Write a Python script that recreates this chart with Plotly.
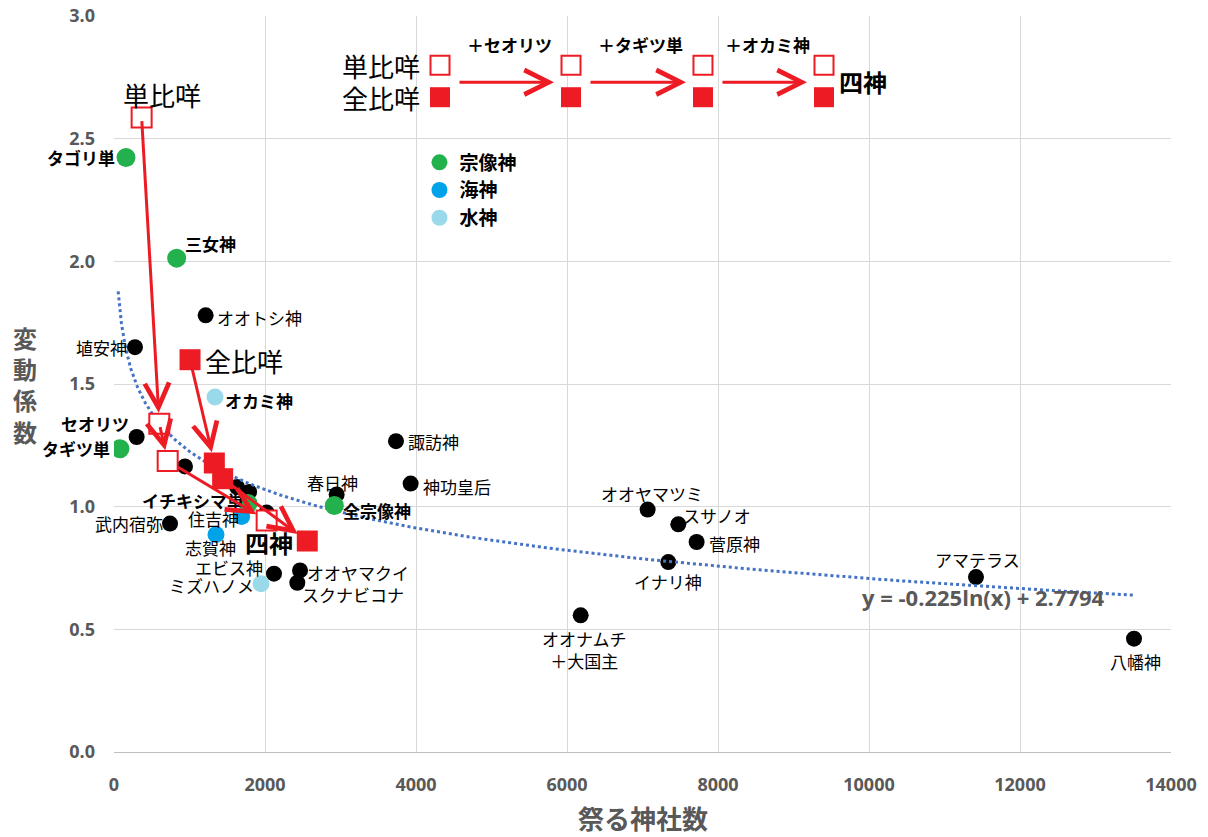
import math
import plotly.graph_objects as go

# ---------------- data ----------------
black_names = ["オオトシ神", "埴安神", "セオリツ", "", "", "", "", "武内宿弥", "エビス神",
               "オオヤマクイ", "スクナビコナ", "春日神", "諏訪神", "神功皇后", "オオヤマツミ",
               "スサノオ", "菅原神", "イナリ神", "オオナムチ<br>＋大国主", "アマテラス", "八幡神"]
black_x = [1214, 278, 300, 940, 1630, 1790, 2022, 742, 2119,
           2464, 2428, 2949, 3735, 3929, 7068,
           7474, 7717, 7342, 6181, 11417, 13510]
black_y = [1.78, 1.65, 1.284, 1.164, 1.08, 1.06, 0.976, 0.931, 0.727,
           0.740, 0.690, 1.050, 1.267, 1.094, 0.988,
           0.928, 0.856, 0.774, 0.557, 0.713, 0.462]

green_names = ["タゴリ単", "三女神", "タギツ単", "イチキシマ単", "全宗像神"]
green_x = [159, 830, 79, 1775, 2918]
green_y = [2.423, 2.013, 1.236, 1.013, 1.005]

blue_names = ["住吉神", "志賀神"]
blue_x = [1691, 1351]
blue_y = [0.960, 0.887]

lblue_names = ["オカミ神", "ミズハノメ"]
lblue_x = [1338, 1947]
lblue_y = [1.447, 0.686]

# 単比咩 series (open squares) and 全比咩 series (filled squares)
tan_x = [366, 600, 711, 2022]
tan_y = [2.586, 1.338, 1.186, 0.944]
zen_x = [1007, 1329, 1439, 2560]
zen_y = [1.599, 1.178, 1.114, 0.860]

steps = ["＋セオリツ", "＋タギツ単", "＋オカミ神"]

trend_a = -0.225
trend_b = 2.7794
trend_text = "y = -0.225ln(x) + 2.7794"

legend_names = ["宗像神", "海神", "水神"]

x_ticks = [0, 2000, 4000, 6000, 8000, 10000, 12000, 14000]
y_ticks = [0.0, 0.5, 1.0, 1.5, 2.0, 2.5, 3.0]

# ---------------- styles ----------------
RED = "#ED1C24"
GREEN = "#22B14C"
BLUE = "#00A2E8"
LBLUE = "#99D9EA"
GRAY = "#595959"
JP = "Noto Sans CJK JP"

# label placement: name -> (xanchor, xshift, yshift, bold)
label_pos = {
    "オオトシ神": ("left", 9, -2, False),
    "埴安神": ("right", -6, 0, False),
    "セオリツ": ("right", -6, 13, True),
    "武内宿弥": ("right", -5, 0, False),
    "エビス神": ("right", -9, 6, False),
    "オオヤマクイ": ("left", 5, -2, False),
    "スクナビコナ": ("left", 3, -12, False),
    "春日神": ("center", -4, 12, False),
    "諏訪神": ("left", 10, 0, False),
    "神功皇后": ("left", 10, -3, False),
    "オオヤマツミ": ("center", 4, 16, False),
    "スサノオ": ("left", 3, 9, False),
    "菅原神": ("left", 10, -2, False),
    "イナリ神": ("center", 0, -19, False),
    "オオナムチ<br>＋大国主": ("center", 4, -34, False),
    "アマテラス": ("center", 2, 18, False),
    "八幡神": ("center", 1, -23, False),
    "タゴリ単": ("right", -9, 0, True),
    "三女神": ("left", 6, 15, True),
    "タギツ単": ("right", -8, 0, True),
    "イチキシマ単": ("right", -2, 3, True),
    "全宗像神": ("left", 7, -5, True),
    "住吉神": ("right", -1, -2, False),
    "志賀神": ("center", -6, -13, False),
    "オカミ神": ("left", 8, -3, True),
    "ミズハノメ": ("right", -5, -2, False),
}

fig = go.Figure()

fig.add_trace(go.Scatter(x=black_x, y=black_y, mode="markers", showlegend=False,
                         marker=dict(size=16, color="black"), hoverinfo="skip"))

trend_x = [55 * (13500 / 55) ** (i / 199) for i in range(200)]
trend_y = [trend_a * math.log(v) + trend_b for v in trend_x]
fig.add_trace(go.Scatter(x=trend_x, y=trend_y, mode="lines", showlegend=False,
                         line=dict(color="#4472C4", width=3, dash="dot"), hoverinfo="skip"))

fig.add_trace(go.Scatter(x=green_x, y=green_y, mode="markers", name=legend_names[0],
                         marker=dict(size=19, color=GREEN)))
fig.add_trace(go.Scatter(x=blue_x, y=blue_y, mode="markers", name=legend_names[1],
                         marker=dict(size=17, color=BLUE)))
fig.add_trace(go.Scatter(x=lblue_x, y=lblue_y, mode="markers", name=legend_names[2],
                         marker=dict(size=17, color=LBLUE)))

fig.add_trace(go.Scatter(x=tan_x, y=tan_y, mode="markers", showlegend=False,
                         marker=dict(size=20, symbol="square", color="white",
                                     line=dict(color=RED, width=2))))
fig.add_trace(go.Scatter(x=zen_x, y=zen_y, mode="markers", showlegend=False,
                         marker=dict(size=21, symbol="square", color=RED,
                                     line=dict(color=RED, width=0))))

# top schematic legend
diag_x = [4318, 6053, 7801, 9404]
fig.add_trace(go.Scatter(x=diag_x, y=[2.799] * 4, mode="markers", showlegend=False,
                         marker=dict(size=19, symbol="square", color="white",
                                     line=dict(color=RED, width=2)), hoverinfo="skip"))
fig.add_trace(go.Scatter(x=diag_x, y=[2.669] * 4, mode="markers", showlegend=False,
                         marker=dict(size=20, symbol="square", color=RED), hoverinfo="skip"))

annotations = []


def add_labels(names, xs, ys):
    for n, x, y in zip(names, xs, ys):
        if not n:
            continue
        xa, xs_, ys_, bold = label_pos[n]
        annotations.append(dict(
            x=x, y=y, xref="x", yref="y", text=f"<b>{n}</b>" if bold else n,
            showarrow=False, xanchor=xa, yanchor="middle", xshift=xs_, yshift=ys_,
            font=dict(family=JP, size=17, color="black")))


add_labels(black_names, black_x, black_y)
add_labels(green_names, green_x, green_y)
add_labels(blue_names, blue_x, blue_y)
add_labels(lblue_names, lblue_x, lblue_y)

big = dict(family=JP, size=26, color="black")
annotations.append(dict(x=tan_x[0], y=tan_y[0], text="単比咩", showarrow=False,
                        xanchor="left", xshift=-21, yshift=23, font=big))
annotations.append(dict(x=zen_x[0], y=zen_y[0], text="全比咩", showarrow=False,
                        xanchor="left", xshift=13, yshift=-1, font=big))
annotations.append(dict(x=tan_x[3], y=tan_y[3], text="<b>四神</b>", showarrow=False,
                        xanchor="center", xshift=2, yshift=-22, font=dict(family=JP, size=24, color="black")))

ARW = dict(showarrow=True, arrowhead=5, arrowsize=1.6, arrowwidth=3, arrowcolor=RED,
           xref="x", yref="y", axref="x", ayref="y", text="")


def arrow(x0, y0, x1, y1, ss=11, st=11):
    annotations.append(dict(x=x1, y=y1, ax=x0, ay=y0, standoff=st, startstandoff=ss, **ARW))


arrow(tan_x[0], tan_y[0], tan_x[1], tan_y[1], ss=2, st=11)
arrow(tan_x[1], tan_y[1], tan_x[2], tan_y[2], ss=2, st=11)
arrow(tan_x[2], tan_y[2], tan_x[3], tan_y[3], ss=10, st=12)
arrow(zen_x[0], zen_y[0], zen_x[1], zen_y[1], ss=8, st=11)
arrow(zen_x[2], zen_y[2], zen_x[3], zen_y[3], ss=8, st=12)

# schematic texts
annotations.append(dict(x=diag_x[0], y=2.797, text="単比咩", showarrow=False,
                        xanchor="right", xshift=-18, font=big))
annotations.append(dict(x=diag_x[0], y=2.667, text="全比咩", showarrow=False,
                        xanchor="right", xshift=-18, font=big))
annotations.append(dict(x=diag_x[3], y=2.735, text="<b>四神</b>", showarrow=False,
                        xanchor="left", xshift=13, font=dict(family=JP, size=24, color="black")))
for i, s in enumerate(steps):
    annotations.append(dict(x=(diag_x[i] + diag_x[i + 1]) / 2, y=2.885, text=f"<b>{s}</b>",
                            showarrow=False, xanchor="center", xshift=4,
                            font=dict(family=JP, size=17, color="black")))
    annotations.append(dict(x=diag_x[i + 1], y=2.730, ax=diag_x[i], ay=2.730,
                            standoff=17, startstandoff=18, **ARW))

# trend equation
annotations.append(dict(x=9881, y=0.630, text=f"<b>{trend_text}</b>", showarrow=False,
                        xanchor="left", font=dict(family="Open Sans", size=22, color=GRAY)))

# axis titles
annotations.append(dict(xref="paper", yref="paper", x=(25 - 114) / 1057, y=(752 - 385) / 736,
                        text="<b>変<br>動<br>係<br>数</b>", showarrow=False,
                        xanchor="center", yanchor="middle",
                        font=dict(family=JP, size=24, color=GRAY)))
annotations.append(dict(xref="paper", yref="paper", x=0.5, y=(752 - 817) / 736,
                        text="<b>祭る神社数</b>", showarrow=False,
                        xanchor="center", yanchor="middle",
                        font=dict(family=JP, size=26, color=GRAY)))

fig.update_layout(
    width=1208, height=837,
    margin=dict(l=114, r=37, t=16, b=85, autoexpand=False),
    paper_bgcolor="white", plot_bgcolor="white",
    annotations=annotations,
    showlegend=True,
    legend=dict(x=0.289, y=0.8268, xanchor="left", yanchor="top",
                bgcolor="rgba(255,255,255,0)", itemsizing="trace",
                font=dict(family=JP, size=19, color="black", weight="bold")),
    xaxis=dict(range=[0, 14000], tickvals=x_ticks, tickformat="d", showgrid=True,
               gridcolor="#D9D9D9", automargin=False,
               zeroline=False, showline=True, linecolor="#BFBFBF", linewidth=1,
               ticks="", ticklabelstandoff=16, ticklabeloverflow="allow",
               tickfont=dict(family="Open Sans", size=18, color=GRAY, weight="bold")),
    yaxis=dict(range=[0, 3], tickvals=y_ticks, tickformat=".1f", showgrid=True,
               gridcolor="#D9D9D9", zeroline=False, showline=False, ticks="",
               automargin=False, ticklabelstandoff=18, ticklabeloverflow="allow",
               tickfont=dict(family="Open Sans", size=18, color=GRAY, weight="bold")),
)

# remove the default 8px page margin so the figure fills the window exactly
fig.write_html("out.html", config={"displayModeBar": False},
               post_script="document.body.style.margin='0px';document.body.style.overflow='hidden';")
